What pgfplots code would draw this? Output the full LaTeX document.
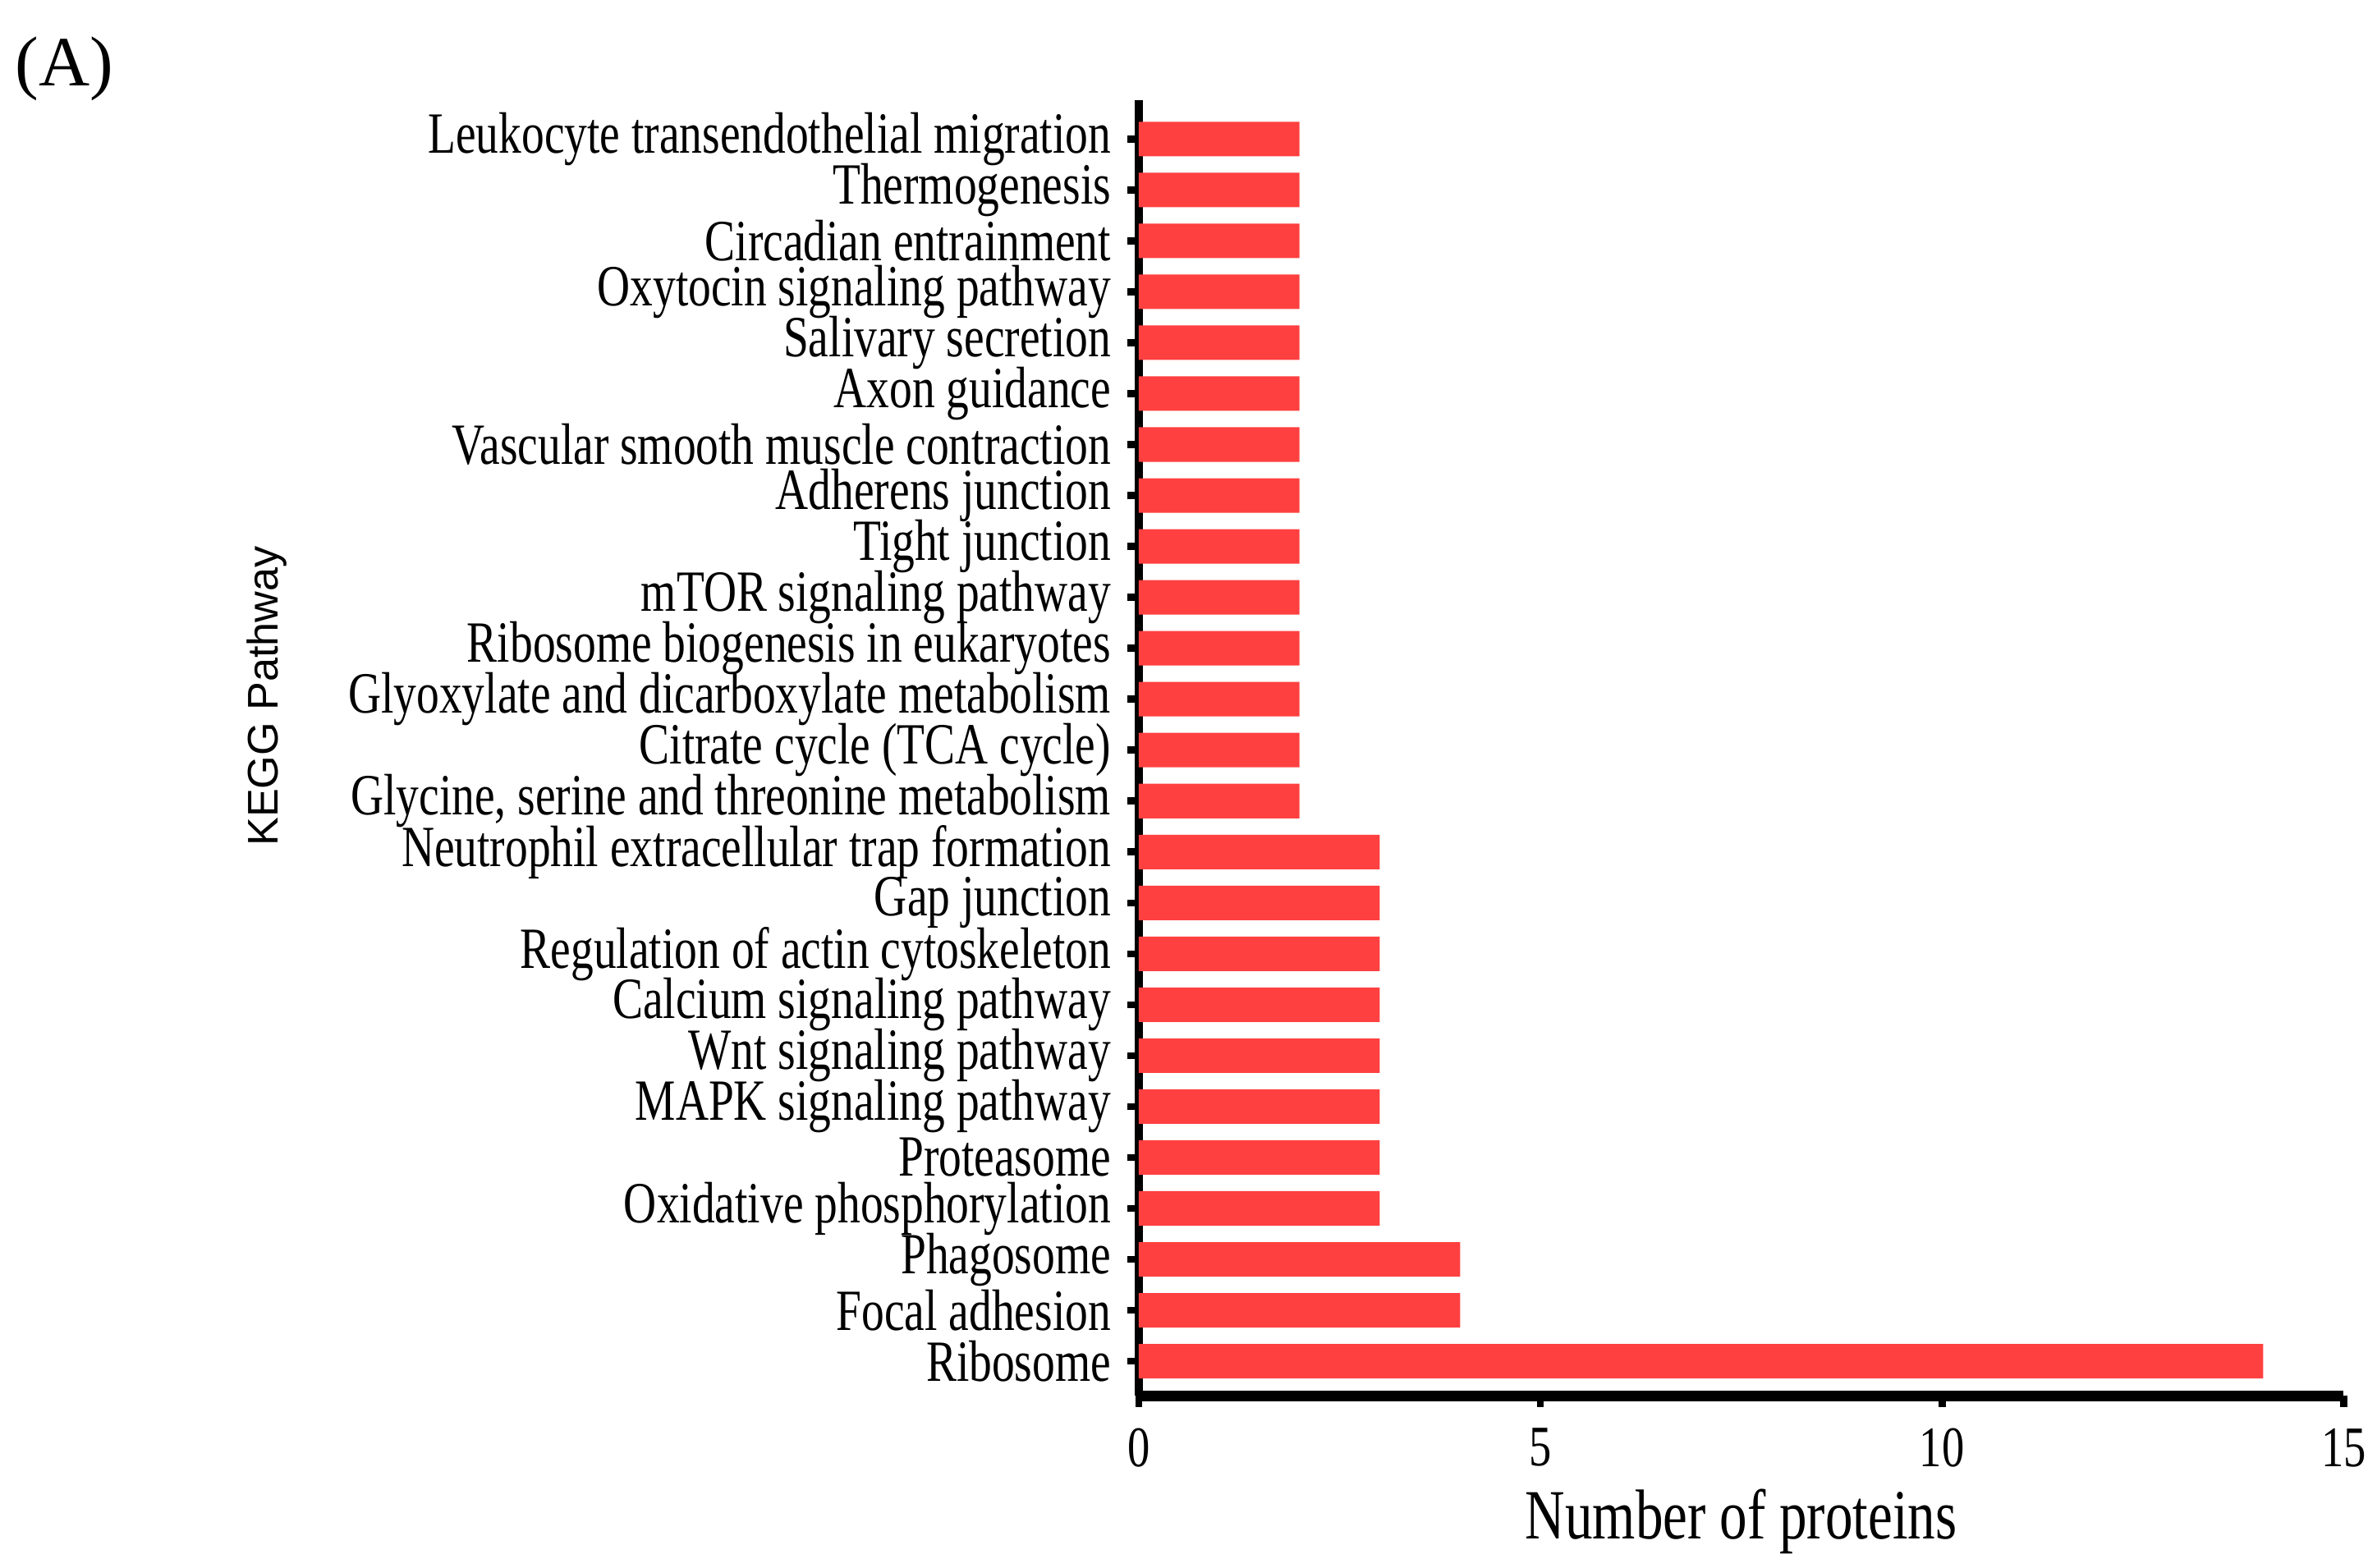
\documentclass[border=0pt]{standalone}
\usepackage{fontspec}
\setmainfont[FakeStretch=0.78]{Liberation Serif}
\newfontfamily\plainserif{Liberation Serif}
\newfontfamily\keggfont{Liberation Sans}
\usepackage{pgfplots}
\pgfplotsset{compat=1.18}
\definecolor{barred}{HTML}{FF4040}

\pgfplotstableread{
idx count
0 14
1 4
2 4
3 3
4 3
5 3
6 3
7 3
8 3
9 3
10 3
11 2
12 2
13 2
14 2
15 2
16 2
17 2
18 2
19 2
20 2
21 2
22 2
23 2
24 2
}\keggdata

\begin{document}
\begin{tikzpicture}
\path[use as bounding box] (-241.9pt,-36.6pt) rectangle (263.0pt,296.5pt);
\begin{axis}[
  at={(0,0)}, anchor=south west,
  scale only axis,
  width=255.9pt, height=275.2pt,
  xbar, bar width=7.33pt,
  xmin=0, xmax=15,
  ymin=-0.677, ymax=24.76,
  axis x line=bottom, axis y line=left,
  x axis line style={-, line width=2.3pt},
  y axis line style={-, line width=1.7pt},
  xtick={0,5,10,15},
  ytick={0,...,24},
  tick align=outside,
  major tick length=2.4pt,
  every tick/.style={black, line width=1.5pt},
  /pgf/number format/assume math mode=true,
  xticklabel style={font=\fontsize{12.2}{14}\selectfont, yshift=-1pt},
  yticklabel style={font=\fontsize{12.4}{14}\selectfont},
  yticklabels={Ribosome, Focal adhesion, Phagosome, Oxidative phosphorylation,
    Proteasome, MAPK signaling pathway, Wnt signaling pathway,
    Calcium signaling pathway, Regulation of actin cytoskeleton, Gap junction,
    Neutrophil extracellular trap formation,
    {Glycine, serine and threonine metabolism}, Citrate cycle (TCA cycle),
    Glyoxylate and dicarboxylate metabolism, Ribosome biogenesis in eukaryotes,
    mTOR signaling pathway, Tight junction, Adherens junction,
    Vascular smooth muscle contraction, Axon guidance, Salivary secretion,
    Oxytocin signaling pathway, Circadian entrainment, Thermogenesis,
    Leukocyte transendothelial migration},
  xlabel={Number of proteins},
  xlabel style={font=\fontsize{15}{17}\selectfont, at={(axis description cs:0.5,0)}, anchor=center, yshift=-26.8pt},
  ylabel={\keggfont KEGG Pathway},
  ylabel style={font=\fontsize{9.1}{11}\selectfont, at={(axis description cs:-0.724,0.54)}, anchor=center, rotate=0},
  clip=false,
]
\addplot[draw=none, fill=barred] table[x=count, y=idx] {\keggdata};
\node[font=\plainserif\fontsize{15}{17}\selectfont] at (axis description cs:-0.892,1.024) {(A)};
\end{axis}
\end{tikzpicture}
\end{document}
